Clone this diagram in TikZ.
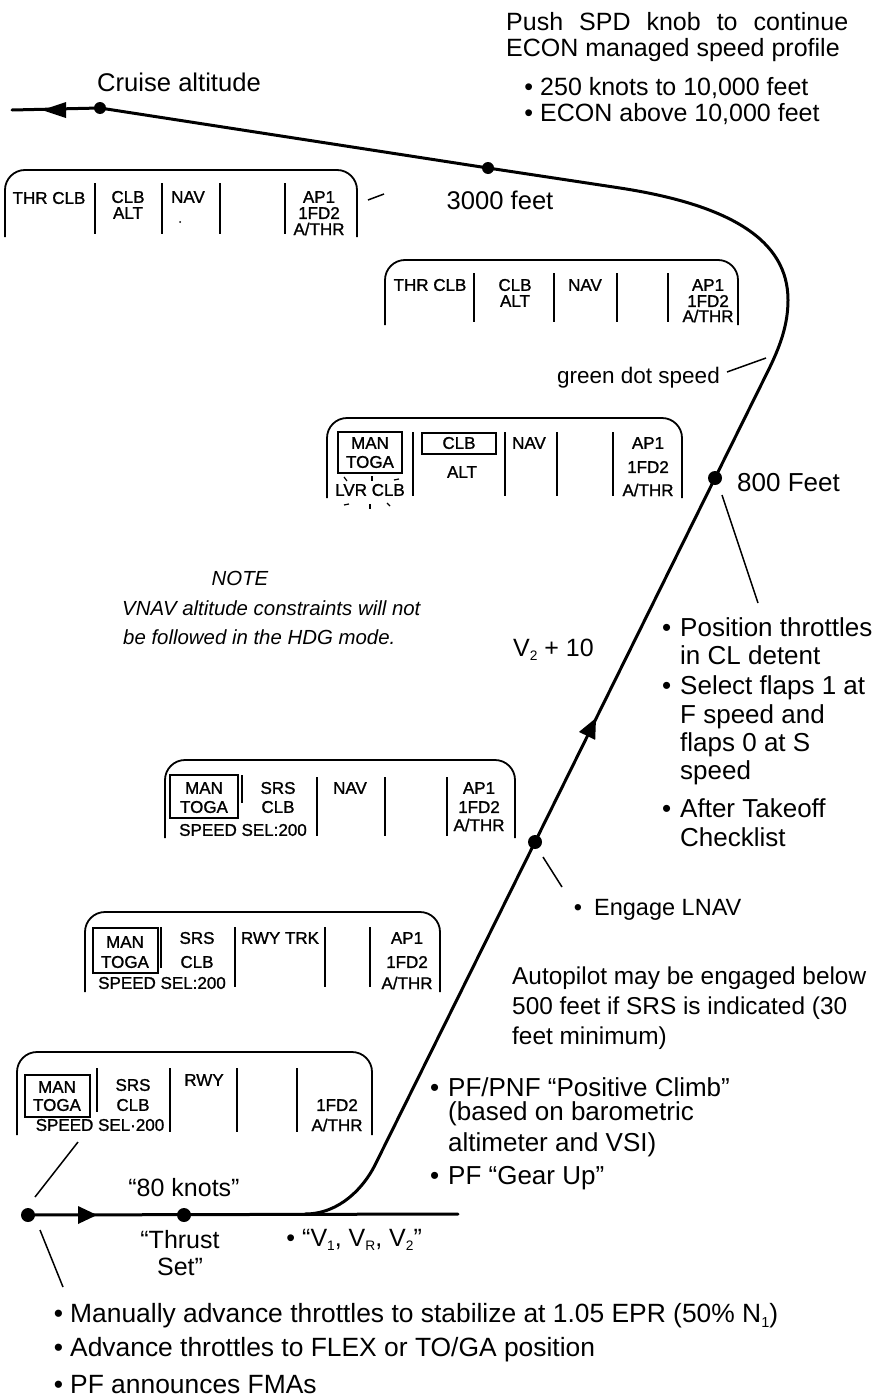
\documentclass[tikz,border=0pt]{standalone}
\usepackage{fontspec}
\setmainfont{Liberation Sans}
\newfontfamily\fmafont[FakeBold=1.2]{Liberation Sans}
\usetikzlibrary{arrows.meta}
\newcommand\sbs[1]{\raisebox{-0.3ex}{\scalebox{0.55}{#1}}}
\newcommand\bul[1]{\llap{•\hspace{#1}}}
\begin{document}
\begin{tikzpicture}[x=1pt,y=-1pt,
  traj/.style={line width=3pt,line cap=round,line join=round},
  dotn/.style={circle,fill=black,inner sep=0pt,minimum size=14pt},
  sdot/.style={circle,fill=black,inner sep=0pt,minimum size=12pt},
  fma/.style={line width=1.8pt,rounded corners=20pt},
  sep/.style={line width=1.8pt},
  ft/.style={font=\fmafont\fontsize{17}{19}\selectfont,inner sep=0pt},
  txt/.style={font=\fontsize{25}{30}\selectfont,inner sep=0pt,anchor=west},
  ntxt/.style={font=\fontsize{20.4}{25}\selectfont\itshape,inner sep=0pt},
  lead/.style={line width=1.5pt},
  tick/.style={line width=1.2pt}]
\useasboundingbox (0,0) rectangle (874,1397);
\fill[white] (0,0) rectangle (874,1397);

% ---------- trajectory ----------
\node[dotn] (d0) at (28,1215) {};
\node[dotn] (d1) at (184,1215) {};
\node[dotn] (d2) at (535,842) {};
\node[dotn] (d3) at (715,478) {};
\node[sdot] (d4) at (488,168) {};
\node[sdot] (d5) at (100,108) {};
\coordinate (gend) at (458,1214);
\coordinate (lend) at (12,110);
\draw[traj] (d0.center) -- (gend);
\draw[traj] (305,1214) .. controls (340,1214) and (364,1187) .. (375,1165)
  -- (d2.center) -- (d3.center) -- (767,373)
  .. controls (780,347) and (788,325) .. (788,300)
  .. controls (788,240) and (730,205) .. (620,188)
  -- (d4.center) -- (d5.center) -- (lend);
% arrowheads
\fill (97,1215) -- (78,1206) -- (78,1224) -- cycle;
\fill (596,718) -- (595.2,739.9) -- (579.0,731.9) -- cycle;
\fill (42,110) -- (66,102) -- (66,118) -- cycle;

% ---------- top texts ----------
\node[txt] (push) at (506,22) {\makebox[342pt][s]{Push SPD knob to continue}};
\node[txt] (econ) at (506,50) {ECON managed speed profile};
\node[txt] (tb1) at (540,88) {\bul{7pt}250 knots to 10,000 feet};
\node[txt] (tb2) at (540,114) {\bul{7pt}ECON above 10,000 feet};
\node[txt,font=\fontsize{25.6}{30}\selectfont] (cruise) at (97,82) {Cruise altitude};
\node[txt,anchor=center,font=\fontsize{25.6}{30}\selectfont] (f3000) at (500,200) {3000 feet};

% ---------- box 1 ----------
\draw[fma] (5,237) -- (5,170) -- (357,170) -- (357,237);
\foreach \x in {95,162,220,285} \draw[sep] (\x,183) -- (\x,234);
\node[ft] (b1a) at (49,198) {THR CLB};
\node[ft] (b1b) at (128,197) {CLB};
\node[ft] (b1c) at (128,213) {ALT};
\node[ft] (b1d) at (188,197) {NAV};
\fill (180,222) circle (1pt);
\node[ft] (b1e) at (319,197) {AP1};
\node[ft] (b1f) at (319,213) {1FD2};
\node[ft] (b1g) at (319,229) {A/THR};
\coordinate (l3a) at (368,200);
\coordinate (l3b) at (384,194);
\draw[lead] (l3a) -- (l3b);

% ---------- box 2 ----------
\draw[fma] (385,325) -- (385,260) -- (738,260) -- (738,325);
\foreach \x in {474,554,617,668} \draw[sep] (\x,273) -- (\x,322);
\node[ft] (b2a) at (430,285) {THR CLB};
\node[ft] (b2b) at (515,285) {CLB};
\node[ft] (b2c) at (515,301) {ALT};
\node[ft] (b2d) at (585,285) {NAV};
\node[ft] (b2e) at (708,285) {AP1};
\node[ft] (b2f) at (708,301) {1FD2};
\node[ft] (b2g) at (708,316) {A/THR};

\node[txt,anchor=east,font=\fontsize{22.5}{27}\selectfont] (gds) at (720,378) {green dot speed};
\draw[lead] (gds.east) ++(7,-6) -- (766,358);

% ---------- box 3 ----------
\draw[fma] (327,498) -- (327,418) -- (682,418) -- (682,498);
\foreach \x in {413,505,557,613} \draw[sep] (\x,432) -- (\x,496);
\draw[sep] (338,432) rectangle (402,473);
\draw[sep] (422,433) rectangle (496,454);
\node[ft] (b3a) at (370,443) {MAN};
\node[ft] (b3b) at (370,462) {TOGA};
\node[ft] (b3c) at (459,443) {CLB};
\node[ft] (b3d) at (462,472) {ALT};
\node[ft] (b3e) at (529,443) {NAV};
\node[ft] (b3f) at (370,490) {LVR CLB};
\node[ft] (b3g) at (648,443) {AP1};
\node[ft] (b3h) at (648,467) {1FD2};
\node[ft] (b3i) at (648,490) {A/THR};
\draw[tick] (344,477) -- (347,481);
\draw[tick] (372,476) -- (372,481);
\draw[tick] (394,480) -- (399,479);
\draw[tick] (344,505) -- (349,504);
\draw[tick] (370,504) -- (370,509);
\draw[tick] (387,503) -- (390,506);

\node[txt,font=\fontsize{26}{30}\selectfont] (f800) at (737,483) {800 Feet};
\draw[lead] (722,495) -- (758,603);

% ---------- note ----------
\node[ntxt] (note) at (240,578) {NOTE};
\node[ntxt,anchor=west] (note1) at (122,608) {VNAV altitude constraints will not};
\node[ntxt,anchor=west] (note2) at (123,637) {be followed in the HDG mode.};

\node[txt] (v210) at (513,650) {V\sbs{2} + 10};

\begin{scope}[txt/.append style={font=\fontsize{26}{30}\selectfont}]
\node[txt] (r1) at (680,627) {\bul{9pt}Position throttles};
\node[txt] (r2) at (680,655) {in CL detent};
\node[txt] (r3) at (680,688) {\bul{9pt}Select flaps 1 at};
\node[txt] (r4) at (680,717) {F speed and};
\node[txt] (r5) at (680,745) {flaps 0 at S};
\node[txt] (r6) at (680,773) {speed};
\node[txt] (r7) at (680,808) {\bul{9pt}After Takeoff};
\node[txt] (r8) at (680,837) {Checklist};
\end{scope}

% ---------- box 4 ----------
\draw[fma] (165,838) -- (165,760) -- (515,760) -- (515,838);
\draw[sep] (242,775) -- (242,803);
\foreach \x in {317,385,447} \draw[sep] (\x,777) -- (\x,836);
\draw[sep] (170,775) rectangle (238,818);
\node[ft] (b4a) at (204,788) {MAN};
\node[ft] (b4b) at (204,807) {TOGA};
\node[ft] (b4c) at (278,788) {SRS};
\node[ft] (b4d) at (278,807) {CLB};
\node[ft] (b4e) at (243,830) {SPEED SEL:200};
\node[ft] (b4f) at (350,788) {NAV};
\node[ft] (b4g) at (479,788) {AP1};
\node[ft] (b4h) at (479,807) {1FD2};
\node[ft] (b4i) at (479,825) {A/THR};

\draw[lead] (543,857) -- (562,887);
\node[txt,font=\fontsize{23.5}{28}\selectfont] (lnav) at (594,910) {\bul{12pt}Engage LNAV};

% ---------- box 5 ----------
\draw[fma] (85,992) -- (85,912) -- (440,912) -- (440,992);
\draw[sep] (161,927) -- (161,968);
\foreach \x in {235,325,370} \draw[sep] (\x,927) -- (\x,987);
\draw[sep] (93,928) rectangle (158,973);
\node[ft] (b5a) at (125,942) {MAN};
\node[ft] (b5b) at (125,962) {TOGA};
\node[ft] (b5c) at (197,938) {SRS};
\node[ft] (b5d) at (197,962) {CLB};
\node[ft] (b5e) at (162,983) {SPEED SEL:200};
\node[ft] (b5f) at (280,938) {RWY TRK};
\node[ft] (b5g) at (407,938) {AP1};
\node[ft] (b5h) at (407,962) {1FD2};
\node[ft] (b5i) at (407,983) {A/THR};

\begin{scope}[txt/.append style={font=\fontsize{24.4}{29}\selectfont}]
\node[txt] (ap1) at (512,978) {Autopilot may be engaged below};
\node[txt] (ap2) at (512,1008) {500 feet if SRS is indicated (30};
\node[txt] (ap3) at (512,1038) {feet minimum)};
\end{scope}

% ---------- box 6 ----------
\draw[fma] (17,1135) -- (17,1052) -- (372,1052) -- (372,1135);
\draw[sep] (97,1068) -- (97,1112);
\foreach \x in {170,237,297} \draw[sep] (\x,1068) -- (\x,1132);
\draw[sep] (25,1075) rectangle (90,1117);
\node[ft] (b6a) at (57,1087) {MAN};
\node[ft] (b6b) at (57,1105) {TOGA};
\node[ft] (b6c) at (133,1085) {SRS};
\node[ft] (b6d) at (133,1105) {CLB};
\node[ft] (b6e) at (100,1125) {SPEED SEL·200};
\node[ft] (b6f) at (204,1080) {RWY};
\node[ft] (b6g) at (337,1105) {1FD2};
\node[ft] (b6h) at (337,1125) {A/THR};

\begin{scope}[txt/.append style={font=\fontsize{26}{30}\selectfont}]
\node[txt] (pf1) at (448,1087) {\bul{9pt}PF/PNF “Positive Climb”};
\node[txt] (pf2) at (448,1114) {(based on barometric};
\node[txt] (pf3) at (448,1145) {altimeter and VSI)};
\node[txt] (pf4) at (448,1178) {\bul{9pt}PF “Gear Up”};
\end{scope}

\node[txt,anchor=center] (k80) at (184,1188) {“80 knots”};
\node[txt,anchor=center] (th1) at (180,1240) {“Thrust};
\node[txt,anchor=center] (th2) at (180,1267) {Set”};
\node[txt] (vv) at (302,1240) {\bul{7pt}“V\sbs{1}, V\sbs{R}, V\sbs{2}”};

\draw[lead] (35,1197) -- (78,1142);
\draw[lead] (40,1230) -- (63,1287);

\begin{scope}[txt/.append style={font=\fontsize{26.4}{30}\selectfont}]
\node[txt] (m1) at (70,1316) {\bul{7pt}Manually advance throttles to stabilize at 1.05 EPR (50\% N\sbs{1})};
\node[txt] (m2) at (70,1350) {\bul{7pt}Advance throttles to FLEX or TO/GA position};
\node[txt] (m3) at (70,1385) {\bul{7pt}PF announces FMAs};
\end{scope}
\end{tikzpicture}
\end{document}
